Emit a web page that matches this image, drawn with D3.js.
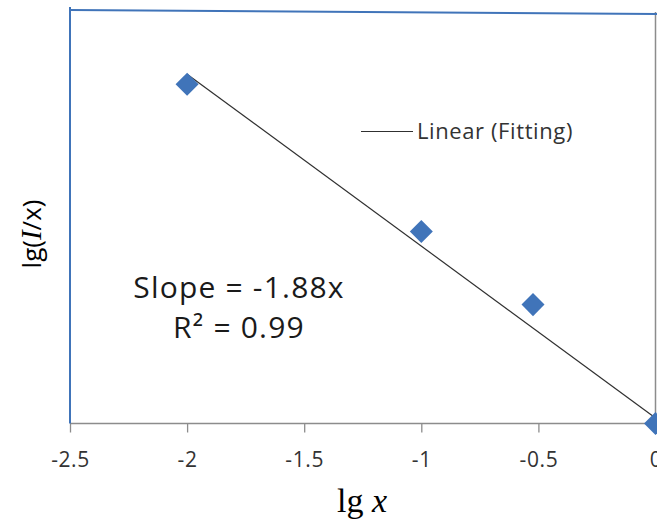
<!DOCTYPE html>
<html>
<head>
<meta charset="utf-8">
<style>
  body { margin: 0; background: #fff; }
  svg { display: block; }
</style>
</head>
<body>
<div id="chart"></div>
<script src="https://d3js.org/d3.v7.min.js"></script>
<script>
  // data
  const lgX = [-2, -1, -0.523, 0];
  const lgIx = [3.71, 2.10, 1.30, 0.0];
  const xTicks = [-2.5, -2, -1.5, -1, -0.5, 0];
  const fitSlope = -1.88;
  const fitIntercept = 0.06;
  const fitRange = [-2, 0];
  const legendLabel = "Linear (Fitting)";
  const eqLines = ["Slope = -1.88x", "R² = 0.99"];

  const W = 657, H = 520;
  const pLeft = 70, pRight = 655.5, pTop = 12, pBottom = 423.5;
  const blue = "#4074B9";

  const svg = d3.select("#chart").append("svg")
    .attr("width", W)
    .attr("height", H);

  const x = d3.scaleLinear().domain([-2.5, 0]).range([pLeft, pRight]);
  const y = d3.scaleLinear().domain([0, 4.5]).range([pBottom, pTop]);

  // frame: gray right edge, blue left and top edges
  svg.append("line")
    .attr("x1", pRight).attr("x2", pRight)
    .attr("y1", pTop).attr("y2", pBottom)
    .attr("stroke", "#8c8c8c").attr("stroke-width", 1.5);

  // x axis
  const xAxis = svg.append("g")
    .attr("transform", "translate(0," + pBottom + ")")
    .call(d3.axisBottom(x).tickValues(xTicks).tickSize(9).tickPadding(0)
      .tickFormat(d => String(d)));
  xAxis.select(".domain").attr("stroke", "#8c8c8c").attr("stroke-width", 1.5)
    .attr("d", "M" + pLeft + ",0H" + W);
  xAxis.selectAll(".tick line").attr("stroke", "#8c8c8c").attr("stroke-width", 1.3);
  xAxis.selectAll(".tick text")
    .attr("y", 43.5).attr("dy", null)
    .attr("fill", "#333")
    .style("font", "21px 'Open Sans', sans-serif")
    .style("letter-spacing", "0.6px");

  svg.append("line")
    .attr("x1", pLeft).attr("x2", pLeft)
    .attr("y1", 7).attr("y2", pBottom)
    .attr("stroke", blue).attr("stroke-width", 2);
  svg.append("line")
    .attr("x1", pLeft).attr("x2", W)
    .attr("y1", pTop - 2).attr("y2", pTop + 2)
    .attr("stroke", blue).attr("stroke-width", 2);

  // fitted line
  svg.append("line")
    .attr("x1", x(fitRange[0])).attr("y1", y(fitSlope * fitRange[0] + fitIntercept))
    .attr("x2", x(fitRange[1])).attr("y2", y(fitSlope * fitRange[1] + fitIntercept))
    .attr("stroke", "#303030").attr("stroke-width", 1.2);

  // diamond markers
  const diamond = d3.symbol().type(d3.symbolSquare).size(265);
  svg.selectAll("path.pt")
    .data(lgX.map((v, i) => [v, lgIx[i]]))
    .join("path")
    .attr("class", "pt")
    .attr("d", diamond)
    .attr("transform", d => "translate(" + x(d[0]) + "," + y(d[1]) + ") rotate(45)")
    .attr("fill", blue);

  // legend
  svg.append("line")
    .attr("x1", 361).attr("x2", 413)
    .attr("y1", 131.5).attr("y2", 131.5)
    .attr("stroke", "#303030").attr("stroke-width", 1.2);
  svg.append("text")
    .attr("x", 417).attr("y", 139)
    .attr("fill", "#333")
    .style("font", "22px 'Open Sans', sans-serif")
    .style("letter-spacing", "0.6px")
    .text(legendLabel);

  // equation
  svg.selectAll("text.eq")
    .data(eqLines)
    .join("text")
    .attr("class", "eq")
    .attr("x", 239)
    .attr("y", (d, i) => 298 + i * 40)
    .attr("text-anchor", "middle")
    .attr("fill", "#1a1a1a")
    .style("font", "30px 'Open Sans', sans-serif")
    .style("letter-spacing", "1.2px")
    .text(d => d);

  // axis titles
  const xt = svg.append("text")
    .attr("x", 362).attr("y", 512)
    .attr("text-anchor", "middle")
    .style("font", "34px 'Liberation Serif', serif");
  xt.append("tspan").text("lg ");
  xt.append("tspan").attr("font-style", "italic").text("x");

  const yt = svg.append("text")
    .attr("transform", "translate(41,234) rotate(-90)")
    .attr("text-anchor", "middle")
    .style("font", "29px 'Liberation Serif', serif");
  yt.append("tspan").style("font-family", "'Open Sans', sans-serif").attr("font-size", 26).text("lg(");
  yt.append("tspan").attr("font-style", "italic").text("I");
  yt.append("tspan").style("font-family", "'Open Sans', sans-serif").attr("font-size", 26).text("/x)");
</script>
</body>
</html>
